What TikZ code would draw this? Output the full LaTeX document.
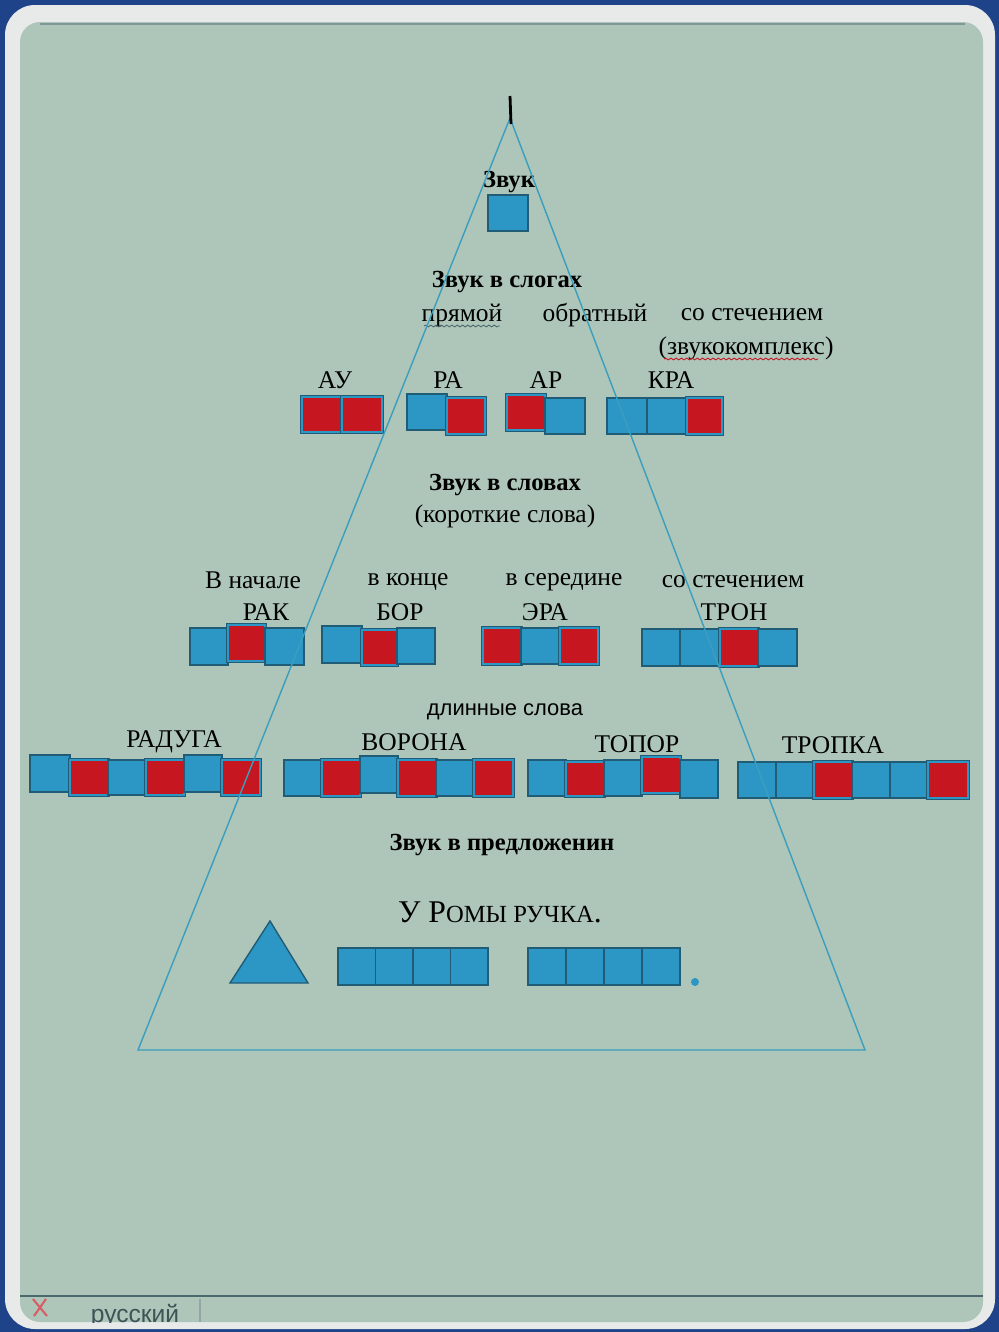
\documentclass[tikz,border=0pt]{standalone}
\usepackage{fontspec}
\setmainfont{Liberation Serif}
\newfontfamily\uisans{Liberation Sans}
\usetikzlibrary{decorations.pathmorphing}
\definecolor{deskblue}{RGB}{30,67,137}
\definecolor{framewhite}{RGB}{232,233,233}
\definecolor{screenbg}{RGB}{174,198,186}
\definecolor{boxblue}{RGB}{44,150,196}
\definecolor{boxdark}{RGB}{32,92,118}
\definecolor{boxred}{RGB}{198,22,32}
\definecolor{triline}{RGB}{58,158,190}
\definecolor{barline}{RGB}{75,105,108}

\begin{document}
\begin{tikzpicture}[x=0.02cm, y=-0.02cm,
  sq/.style={fill=boxblue, draw=boxdark, line width=0.8pt},
  rsq/.style={fill=boxred, draw=boxblue, line width=1.4pt,
    preaction={draw=boxdark, line width=2.4pt}},
  hd/.style={font=\bfseries\fontsize{14}{16}\selectfont},
  lbl/.style={font=\fontsize{14.5}{17}\selectfont},
  squig/.style={decorate, decoration={snake, amplitude=0.5pt, segment length=3pt}, line width=0.5pt}]

	% screen and frame
	\useasboundingbox (0,0) rectangle (999,1332);
	\fill [deskblue] (0,0) rectangle (999,1332);
	\fill [framewhite, rounded corners=0.6cm] (5,5) rectangle (995,1329);
	\fill [screenbg, rounded corners=0.4cm] (20,22) rectangle (983,1322);
	\draw [barline!70, line width=1.5pt] (40,24) -- (965,24);

	% sound
	\node[hd] (zvuk) at (509,182) {Звук};
	\draw[sq] (488,195) rectangle (528,231);

	% syllables
	\node[hd] (slogi) at (507,282) {Звук в слогах};
	\node[lbl] (pryam) at (462,315) {прямой};
	\node[lbl] (obrat) at (595,315) {обратный};
	\node[lbl] (stech) at (752,315) {со стечением};
	\node[lbl] (kompl) at (746,348) {(звукокомплекс)};
	\draw[squig, barline] (424,326) -- (500,326);
	\draw[squig, boxred] (664,359) -- (818,359);

	\node[lbl] (au) at (335,380) {АУ};
	\node[lbl] (ra) at (448,380) {РА};
	\node[lbl] (ar) at (546,380) {АР};
	\node[lbl] (kra) at (671,380) {КРА};

	\draw[rsq] (302,397) rectangle (342,432);
	\draw[rsq] (342,397) rectangle (382,432);
	\draw[sq] (407,394) rectangle (447,430);
	\draw[rsq] (447,398) rectangle (485,434);
	\draw[rsq] (507,395) rectangle (545,430);
	\draw[sq] (545,398) rectangle (585,434);
	\draw[sq] (607,398) rectangle (647,434);
	\draw[sq] (647,398) rectangle (687,434);
	\draw[rsq] (687,398) rectangle (722,434);

	% short words
	\node[hd] (slova) at (505,485) {Звук в словах};
	\node[lbl] (korot) at (505,516) {(короткие слова)};
	\node[lbl] (nach) at (253,580) {В начале};
	\node[lbl] (konec) at (408,582) {в конце};
	\node[lbl] (sered) at (564,582) {в середине};
	\node[lbl] (stech2) at (733,582) {со стечением};
	\node[lbl] (rak) at (266,612) {РАК};
	\node[lbl] (bor) at (400,612) {БОР};
	\node[lbl] (era) at (545,612) {ЭРА};
	\node[lbl] (tron) at (734,612) {ТРОН};

	\draw[sq] (190,628) rectangle (228,665);
	\draw[rsq] (228,625) rectangle (265,661);
	\draw[sq] (265,628) rectangle (304,665);
	\draw[sq] (322,626) rectangle (362,663);
	\draw[rsq] (362,630) rectangle (397,665);
	\draw[sq] (397,628) rectangle (435,664);
	\draw[rsq] (483,628) rectangle (521,664);
	\draw[sq] (521,628) rectangle (560,664);
	\draw[rsq] (560,628) rectangle (598,664);
	\draw[sq] (642,629) rectangle (680,666);
	\draw[sq] (680,629) rectangle (720,666);
	\draw[rsq] (720,629) rectangle (758,666);
	\draw[sq] (758,629) rectangle (797,666);

	% long words
	\node[font=\uisans\fontsize{12.5}{14}\selectfont] (dlin) at (505,712) {длинные слова};
	\node[lbl] (raduga) at (174,742) {РАДУГА};
	\node[lbl] (vorona) at (414,742) {ВОРОНА};
	\node[lbl] (topor) at (637,744) {ТОПОР};
	\node[lbl] (tropka) at (833,745) {ТРОПКА};

	\draw[sq] (30,755) rectangle (70,792);
	\draw[rsq] (70,760) rectangle (108,795);
	\draw[sq] (108,760) rectangle (146,795);
	\draw[rsq] (146,760) rectangle (184,795);
	\draw[sq] (184,755) rectangle (222,792);
	\draw[rsq] (222,760) rectangle (260,795);

	\draw[sq] (284,760) rectangle (322,796);
	\draw[rsq] (322,760) rectangle (360,796);
	\draw[sq] (360,756) rectangle (398,793);
	\draw[rsq] (398,760) rectangle (436,796);
	\draw[sq] (436,760) rectangle (474,796);
	\draw[rsq] (474,760) rectangle (513,796);

	\draw[sq] (528,760) rectangle (566,796);
	\draw[rsq] (566,762) rectangle (604,796);
	\draw[sq] (604,760) rectangle (642,796);
	\draw[rsq] (642,757) rectangle (680,793);
	\draw[sq] (680,760) rectangle (718,798);

	\draw[sq] (738,762) rectangle (776,798);
	\draw[sq] (776,762) rectangle (814,798);
	\draw[rsq] (814,762) rectangle (852,798);
	\draw[sq] (852,762) rectangle (890,798);
	\draw[sq] (890,762) rectangle (928,798);
	\draw[rsq] (928,762) rectangle (968,798);

	% sentence
	\node[hd] (predl) at (502,845) {Звук в предложенин};
	\node[font=\fontsize{18}{20}\selectfont] (roma) at (500,912) {У Р{\fontsize{14}{16}\selectfont ОМЫ РУЧКА}.};
	\draw[sq] (230,983) -- (270,921) -- (308,983) -- cycle;
	\draw[sq] (338,948) rectangle (375.5,985);
	\draw[sq] (375.5,948) rectangle (413,985);
	\draw[sq] (413,948) rectangle (450.5,985);
	\draw[sq] (450.5,948) rectangle (488,985);
	\draw[sq] (528,948) rectangle (566,985);
	\draw[sq] (566,948) rectangle (604,985);
	\draw[sq] (604,948) rectangle (642,985);
	\draw[sq] (642,948) rectangle (680,985);
	\fill[boxblue] (695,982) circle [radius = 4];

	% pyramid
	\draw [triline, line width=0.8pt] (510,118) -- (865,1050) -- (138,1050) -- cycle;
	\draw [line width=1.6pt] (510,96) -- (511,124);

	% status bar
	\draw [barline, line width=0.8pt] (20,1296) -- (983,1296);
	\draw [barline!60, line width=0.6pt] (200,1299) -- (200,1322);
	\draw [boxred!70, line width=1.2pt] (33,1299) -- (47,1316);
	\draw [boxred!70, line width=1.2pt] (46,1299) -- (34,1316);
	\begin{scope}
		\clip (20,1296) rectangle (983,1322);
		\node[font=\uisans\fontsize{14}{16}\selectfont, text=barline!80!black, anchor=base] (lang) at (135,1322) {русский};
	\end{scope}

\end{tikzpicture}
\end{document}
